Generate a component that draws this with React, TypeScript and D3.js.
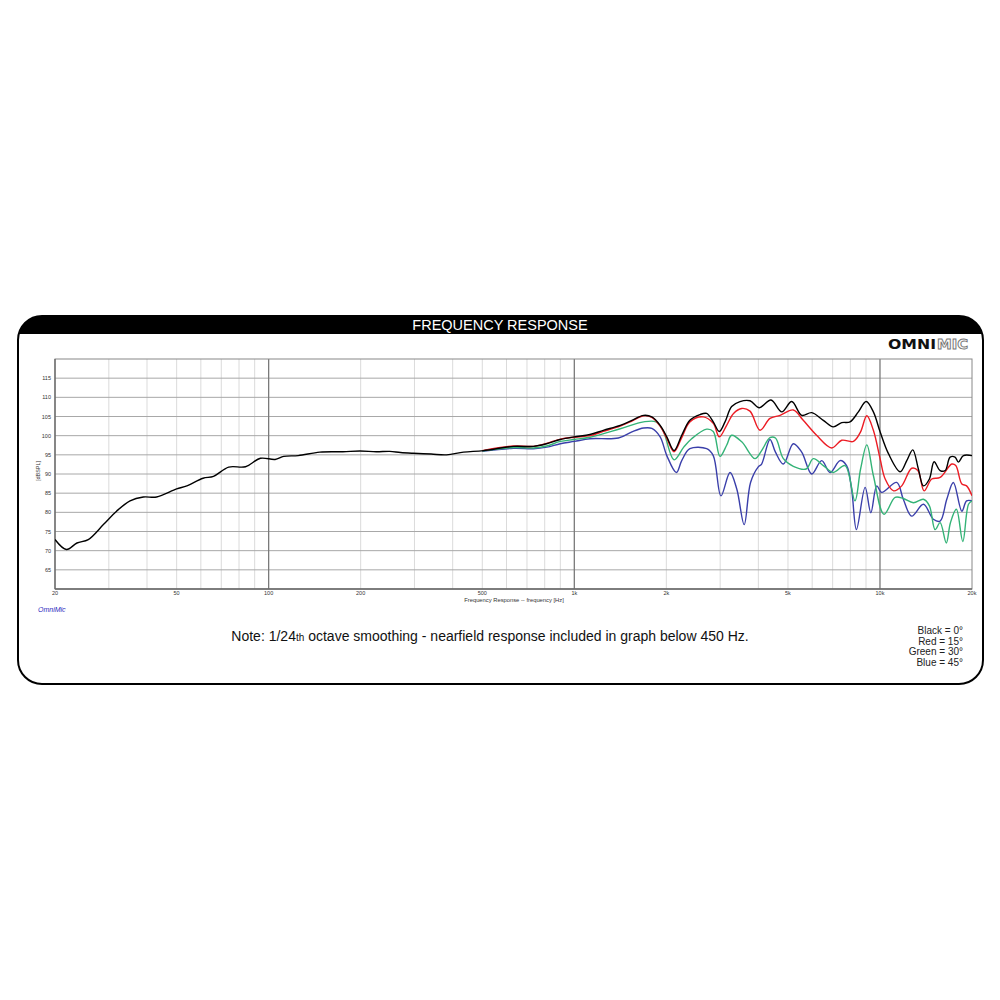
import React from "react";
import * as d3 from "d3";

const xTickValues = [20, 50, 100, 200, 500, 1000, 2000, 5000, 10000, 20000];
const xTickLabels = ["20", "50", "100", "200", "500", "1k", "2k", "5k", "10k", "20k"];
const yTickValues = [65, 70, 75, 80, 85, 90, 95, 100, 105, 110, 115];
const majorFreqs = [100, 1000, 10000];
const minorFreqs = [30, 40, 50, 60, 70, 80, 90, 200, 300, 400, 500, 600, 700, 800, 900, 2000, 3000, 4000, 5000, 6000, 7000, 8000, 9000];

const black: [number, number][] = [
  [20, 72.9], [21.8, 70.3], [23.6, 72.0], [25.7, 72.9], [28.8, 76.8], [31.8, 80.3], [35.2, 83.0], [38.9, 84.0], [43, 84.0],
  [50, 86.1], [54, 86.9], [61, 88.9], [66, 89.4], [74, 91.8], [84, 91.9], [94, 94.1], [105, 93.8], [112, 94.6], [125, 94.8],
  [147, 95.7], [175, 95.8], [199, 96.0], [225, 95.8], [249, 95.9], [270, 95.6], [297, 95.4], [340, 95.2], [382, 95.0], [434, 95.7],
  [504, 96.1], [632, 97.2], [735, 97.2], [812, 97.9], [900, 99.0], [1000, 99.7], [1125, 100.3], [1244, 101.4], [1413, 102.7],
  [1543, 104.0], [1685, 105.3], [1793, 104.9], [1909, 102.7], [2007, 99.7], [2120, 96.1], [2246, 100.1], [2388, 104.0],
  [2576, 105.5], [2710, 105.8], [2848, 103.6], [2981, 101.1], [3112, 103.6], [3271, 107.6], [3484, 108.9], [3756, 109.1],
  [4029, 107.3], [4400, 109.3], [4771, 106.2], [5143, 108.9], [5545, 105.3], [5978, 106.0], [6525, 104.0], [7033, 102.3],
  [7495, 103.4], [7981, 103.6], [8497, 106.2], [9010, 108.9], [9514, 106.2], [10008, 101.0], [10658, 95.3], [11640, 90.6],
  [12235, 93.5], [12800, 96.3], [13355, 91.3], [13870, 86.9], [14510, 88.7], [15030, 93.2], [15730, 90.9], [16340, 90.9],
  [16960, 94.4], [17600, 94.4], [18050, 93.1], [18750, 94.8], [20000, 94.8],
];

const red: [number, number][] = [
  [500, 96.1], [632, 97.3], [735, 97.2], [812, 98.0], [900, 99.1], [1000, 99.6], [1125, 100.0], [1244, 101.1], [1413, 102.5],
  [1543, 103.8], [1685, 105.2], [1793, 104.8], [1909, 102.5], [2007, 99.3], [2120, 95.8], [2246, 99.5], [2388, 103.6],
  [2640, 104.9], [2848, 103.2], [2981, 99.7], [3150, 102.7], [3318, 105.8], [3529, 107.1], [3756, 106.4], [4051, 101.4],
  [4366, 104.5], [4713, 105.3], [5206, 106.7], [5610, 104.0], [6203, 100.1], [6950, 96.8], [7495, 98.8], [8187, 98.5],
  [8640, 101.0], [9057, 105.2], [9514, 101.4], [10008, 94.0], [10400, 88.7], [11080, 85.6], [11780, 86.9], [12700, 91.5],
  [13300, 90.9], [13940, 85.6], [14770, 88.7], [15730, 89.1], [17180, 92.6], [17700, 92.2], [18530, 87.4], [19200, 86.9],
  [20000, 84.3],
];

const green: [number, number][] = [
  [500, 96.0], [632, 96.9], [735, 96.8], [812, 97.3], [900, 98.5], [1000, 99.0], [1125, 99.6], [1413, 101.8], [1685, 103.6],
  [1850, 103.6], [1950, 101.4], [2120, 93.7], [2280, 97.0], [2420, 99.2], [2710, 101.7], [2848, 101.1], [2996, 94.6],
  [3150, 97.5], [3271, 100.1], [3529, 98.4], [3901, 94.0], [4100, 96.1], [4366, 99.5], [4550, 99.4], [4830, 94.0],
  [5206, 92.0], [5733, 91.3], [6053, 94.0], [6525, 92.2], [7033, 90.4], [7686, 92.2], [8280, 83.0], [8640, 91.3],
  [9057, 97.6], [9514, 89.6], [10310, 79.5], [11210, 83.9], [11920, 83.6], [12860, 82.5], [13870, 83.4], [14510, 81.7],
  [15150, 75.5], [15730, 77.3], [16480, 72.0], [17000, 77.3], [17780, 80.8], [18660, 72.4], [19480, 82.1], [20000, 83.0],
];

const blue: [number, number][] = [
  [500, 95.9], [632, 96.7], [735, 96.6], [812, 97.0], [900, 97.9], [1000, 98.5], [1125, 99.2], [1394, 99.4], [1543, 101.0],
  [1685, 102.0], [1793, 101.9], [1909, 99.7], [2007, 94.8], [2157, 90.4], [2246, 93.5], [2388, 96.6], [2710, 96.6],
  [2848, 94.8], [3018, 84.3], [3231, 90.4], [3400, 86.1], [3595, 76.8], [3772, 87.8], [3992, 91.8], [4100, 92.6],
  [4366, 99.0], [4550, 95.7], [4830, 92.6], [5206, 97.9], [5545, 95.7], [5978, 90.0], [6447, 93.5], [6867, 90.4],
  [7401, 93.5], [7776, 92.2], [8074, 86.1], [8375, 75.5], [8941, 86.5], [9334, 79.9], [9760, 86.9], [10130, 85.2],
  [11340, 87.8], [11920, 83.4], [12700, 79.0], [13870, 82.1], [14950, 78.2], [15730, 77.7], [16540, 83.4], [17380, 87.8],
  [18530, 80.3], [19200, 83.0], [20000, 83.0],
];

const seriesList = [
  { name: "Blue", data: blue, color: "#3a3faa" },
  { name: "Green", data: green, color: "#34b377" },
  { name: "Red", data: red, color: "#ec1c24" },
  { name: "Black", data: black, color: "#000000" },
];

const legendLines = ["Black = 0°", "Red = 15°", "Green = 30°", "Blue = 45°"];

const FONT = "'Liberation Sans', Arial, Helvetica, sans-serif";

export default function App() {
  const L = 55, R = 972, T = 359, B = 589;
  const x = d3.scaleLog().domain([20, 20000]).range([L, R]);
  const y = d3.scaleLinear().domain([60, 120]).range([B, T]);
  const line = d3
    .line<[number, number]>()
    .x((d) => x(d[0]))
    .y((d) => y(d[1]))
    .curve(d3.curveCatmullRom.alpha(0.5));

  const fx = 18, fy = 316, fw = 965, fh = 368, rr = 24;

  return (
    <svg width={1000} height={1000} style={{ position: "absolute", left: 0, top: 0, background: "#fff" }}>
      <defs>
        <clipPath id="frameClip">
          <rect x={fx} y={fy} width={fw} height={fh} rx={rr} ry={rr} />
        </clipPath>
        <clipPath id="plotClip">
          <rect x={L} y={T} width={R - L} height={B - T} />
        </clipPath>
      </defs>
      <rect x={0} y={0} width={1000} height={1000} fill="#fff" />
      <g clipPath="url(#frameClip)">
        <rect x={fx} y={fy} width={fw} height={18} fill="#000" />
      </g>
      <rect x={fx} y={fy} width={fw} height={fh} rx={rr} ry={rr} fill="none" stroke="#000" strokeWidth={2} />
      <text x={500} y={330} textAnchor="middle" fill="#fff" fontFamily={FONT} fontSize={14.5}>
        FREQUENCY RESPONSE
      </text>

      {/* OMNIMIC logo */}
      <text x={888} y={348.5} fontFamily={"'DejaVu Sans', sans-serif"} fontWeight={900} fontSize={13.5}>
        <tspan fill="#111" textLength={48} lengthAdjust="spacingAndGlyphs">OMNI</tspan>
        <tspan x={937} fill="#fff" stroke="#777" strokeWidth={0.9} textLength={31} lengthAdjust="spacingAndGlyphs">MIC</tspan>
      </text>

      {/* grid */}
      {minorFreqs.map((f) => (
        <line key={"mn" + f} x1={x(f)} x2={x(f)} y1={T} y2={B} stroke="#d2d2d2" strokeWidth={0.8} />
      ))}
      {yTickValues.map((v) => (
        <line key={"h" + v} x1={L} x2={R} y1={y(v)} y2={y(v)} stroke="#a8a8a8" strokeWidth={1} />
      ))}
      {majorFreqs.map((f) => (
        <line key={"mj" + f} x1={x(f)} x2={x(f)} y1={T} y2={B} stroke="#7a7a7a" strokeWidth={1.3} />
      ))}
      <rect x={L} y={T} width={R - L} height={B - T} fill="none" stroke="#888" strokeWidth={1} />
      <line x1={L} x2={L} y1={T} y2={B} stroke="#666" strokeWidth={1.3} />
      <line x1={L} x2={R} y1={B} y2={B} stroke="#666" strokeWidth={1.3} />

      {/* y ticks */}
      {yTickValues.map((v) => (
        <text key={"yt" + v} x={51} y={y(v) + 2} textAnchor="end" fontFamily={FONT} fontSize={5.5} fill="#333">
          {v}
        </text>
      ))}
      <text
        transform={`translate(40,471) rotate(-90)`}
        textAnchor="middle"
        fontFamily={FONT}
        fontSize={5.5}
        fill="#333"
      >
        [dBSPL]
      </text>

      {/* x ticks */}
      {xTickValues.map((v, i) => (
        <text key={"xt" + v} x={x(v)} y={595} textAnchor="middle" fontFamily={FONT} fontSize={5.5} fill="#333">
          {xTickLabels[i]}
        </text>
      ))}
      <text x={514} y={602} textAnchor="middle" fontFamily={FONT} fontSize={5.8} fill="#333">
        Frequency Response -- frequency [Hz]
      </text>

      {/* curves */}
      <g clipPath="url(#plotClip)">
        {seriesList.map((s) => (
          <path key={s.name} d={line(s.data) || ""} fill="none" stroke={s.color} strokeWidth={1.4} strokeLinejoin="round" />
        ))}
      </g>

      <text x={38} y={612} fontFamily={FONT} fontSize={7} fontStyle="italic" fill="#2b2bc0">
        OmniMic
      </text>

      <text x={490} y={641} textAnchor="middle" fontFamily={FONT} fontSize={14} fill="#111">
        Note: 1/24<tspan fontSize={10}>th</tspan> octave smoothing - nearfield response included in graph below 450 Hz.
      </text>

      {legendLines.map((t, i) => (
        <text key={t} x={963} y={634 + i * 10.5} textAnchor="end" fontFamily={FONT} fontSize={10} fill="#222">
          {t}
        </text>
      ))}
    </svg>
  );
}
